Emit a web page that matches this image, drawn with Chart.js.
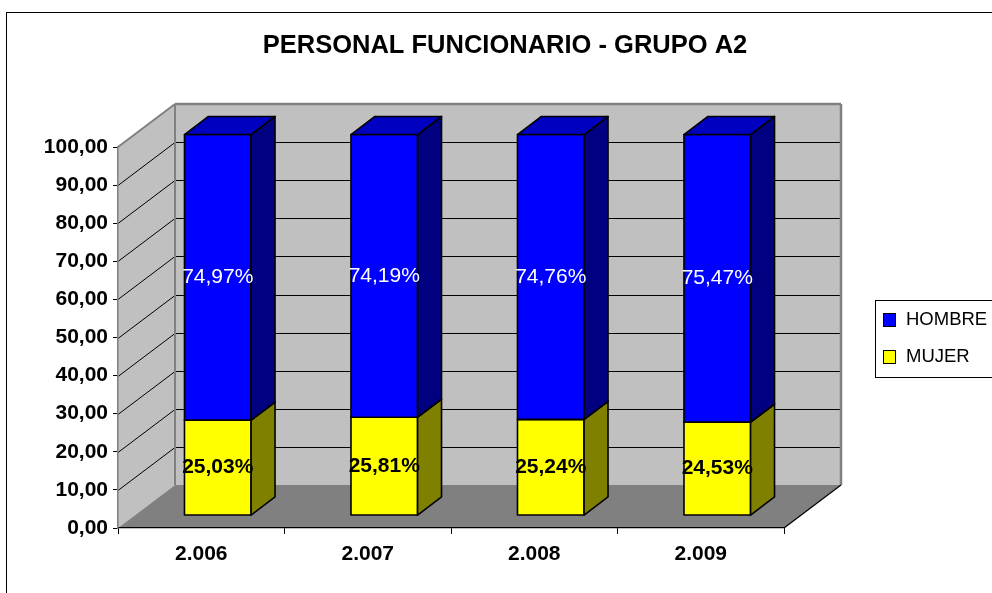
<!DOCTYPE html>
<html>
<head>
<meta charset="utf-8">
<title>Personal funcionario - Grupo A2</title>
<script src="https://cdn.jsdelivr.net/npm/chart.js@4.4.0/dist/chart.umd.min.js"></script>
<style>
  html, body { margin: 0; padding: 0; background: #fff; }
  #wrap { width: 992px; height: 593px; position: relative; }
</style>
</head>
<body>
<div id="wrap"><canvas id="grupoA2"></canvas></div>
<script>
// porcentajes por año (mujer abajo, hombre encima)
const years = ['2.006', '2.007', '2.008', '2.009'];
const mujer = [25.03, 25.81, 25.24, 24.53];
const hombre = [74.97, 74.19, 74.76, 75.47];
const chartTitle = 'PERSONAL FUNCIONARIO - GRUPO A2';

const FONT = "'Liberation Sans', Arial, sans-serif";

// oblique depth of the 3d box (front plane -> back wall)
const depthX = 57, depthY = -43;
// bars sit between these depth fractions
const barFront = 0.29, barBack = 0.71;

// face colours for each series: [front, side, top]
const faces = [
  ['#FFFF00', '#808000', '#C0C000'],
  ['#0000FF', '#000080', '#0000C0']
];

function fmt(v) {
  return v.toFixed(2).replace('.', ',');
}

function poly(ctx, pts, fill, stroke, lw) {
  ctx.beginPath();
  ctx.moveTo(pts[0][0], pts[0][1]);
  for (let i = 1; i < pts.length; i++) ctx.lineTo(pts[i][0], pts[i][1]);
  ctx.closePath();
  if (fill) { ctx.fillStyle = fill; ctx.fill(); }
  if (stroke) { ctx.strokeStyle = stroke; ctx.lineWidth = lw || 1; ctx.stroke(); }
}

function line(ctx, x1, y1, x2, y2, color, lw) {
  ctx.beginPath();
  ctx.moveTo(x1, y1);
  ctx.lineTo(x2, y2);
  ctx.strokeStyle = color;
  ctx.lineWidth = lw || 1;
  ctx.stroke();
}

// walls, floor, grid, frame and title
const walls3d = {
  id: 'walls3d',
  beforeDraw(chart) {
    const ctx = chart.ctx;
    const { left, right, top, bottom } = chart.chartArea;
    const ys = chart.scales.y;
    ctx.save();
    ctx.fillStyle = '#fff';
    ctx.fillRect(0, 0, chart.width, chart.height);

    // outer frame
    ctx.strokeStyle = '#000';
    ctx.lineWidth = 1;
    ctx.strokeRect(6.5, 12.5, 1000, 600);

    // title
    ctx.fillStyle = '#000';
    ctx.font = 'bold 25.5px ' + FONT;
    ctx.textAlign = 'center';
    ctx.textBaseline = 'alphabetic';
    ctx.fillText(chartTitle, 505, 53);

    // back wall
    poly(ctx, [
      [left + depthX, top + depthY], [right + depthX, top + depthY],
      [right + depthX, bottom + depthY], [left + depthX, bottom + depthY]
    ], '#C0C0C0');
    // side wall
    poly(ctx, [
      [left, bottom], [left, top], [left + depthX, top + depthY], [left + depthX, bottom + depthY]
    ], '#C0C0C0');

    // grid lines on back and side walls
    ys.ticks.forEach(t => {
      if (t.value <= ys.min || t.value >= ys.max) return;
      const yy = Math.round(ys.getPixelForValue(t.value)) + 0.5;
      line(ctx, left + depthX, yy + depthY, right + depthX, yy + depthY, '#000', 1);
      line(ctx, left, yy, left + depthX, yy + depthY, '#000', 1);
    });

    // wall borders
    ctx.lineJoin = 'miter';
    line(ctx, left + depthX, bottom + depthY, left + depthX, top + depthY, '#808080', 2);
    line(ctx, left + depthX, top + depthY, right + depthX, top + depthY, '#808080', 2.5);
    line(ctx, right + depthX, top + depthY, right + depthX, bottom + depthY, '#808080', 2.5);
    line(ctx, left, top, left + depthX, top + depthY, '#808080', 2);

    // floor
    poly(ctx, [
      [left, bottom], [right, bottom], [right + depthX, bottom + depthY], [left + depthX, bottom + depthY]
    ], '#808080');
    line(ctx, right, bottom, right + depthX, bottom + depthY, '#000', 1.2);
    ctx.restore();
  }
};

// 3d stacked columns, value labels and legend
const bars3d = {
  id: 'bars3d',
  beforeDatasetDraw() {
    return false;
  },
  afterDatasetsDraw(chart) {
    const ctx = chart.ctx;
    const fx = depthX * barFront, fy = depthY * barFront;
    const bx = depthX * barBack, by = depthY * barBack;
    const labels = [];
    ctx.save();
    ctx.lineJoin = 'round';
    for (let j = 0; j < chart.data.labels.length; j++) {
      chart.data.datasets.forEach((ds, i) => {
        const el = chart.getDatasetMeta(i).data[j];
        const p = el.getProps(['x', 'y', 'base', 'width'], true);
        const x0 = p.x - p.width / 2, x1 = p.x + p.width / 2;
        const yt = p.y, yb = p.base;
        const c = faces[i];
        // front
        poly(ctx, [[x0 + fx, yt + fy], [x1 + fx, yt + fy], [x1 + fx, yb + fy], [x0 + fx, yb + fy]], c[0], '#000', 1.6);
        // right side
        poly(ctx, [[x1 + fx, yt + fy], [x1 + bx, yt + by], [x1 + bx, yb + by], [x1 + fx, yb + fy]], c[1], '#000', 1.6);
        // top
        poly(ctx, [[x0 + fx, yt + fy], [x1 + fx, yt + fy], [x1 + bx, yt + by], [x0 + bx, yt + by]], c[2], '#000', 1.6);
        labels.push({
          text: fmt(ds.data[j]) + '%',
          x: p.x + fx,
          y: (yt + yb) / 2 + fy,
          series: i
        });
      });
    }

    ctx.textAlign = 'center';
    ctx.textBaseline = 'middle';
    labels.forEach(l => {
      if (l.series === 1) {
        ctx.font = '21px ' + FONT;
        ctx.fillStyle = '#fff';
      } else {
        ctx.font = 'bold 21px ' + FONT;
        ctx.fillStyle = '#000';
      }
      ctx.fillText(l.text, l.x, l.y);
    });
    ctx.restore();
  },
  afterDraw(chart) {
    const ctx = chart.ctx;
    ctx.save();
    // legend box
    ctx.strokeStyle = '#000';
    ctx.lineWidth = 1;
    ctx.strokeRect(875.5, 300.5, 130, 77);
    const order = [1, 0];
    ctx.font = '18.5px ' + FONT;
    ctx.textAlign = 'left';
    ctx.textBaseline = 'middle';
    order.forEach((i, k) => {
      const ds = chart.data.datasets[i];
      const cy = 320 + k * 37;
      ctx.fillStyle = ds.backgroundColor;
      ctx.fillRect(883.5, cy - 6.5, 12, 13);
      ctx.strokeStyle = '#000';
      ctx.lineWidth = 1;
      ctx.strokeRect(883.5, cy - 6.5, 12, 13);
      ctx.fillStyle = '#000';
      ctx.fillText(ds.label, 906, cy);
    });
    ctx.restore();
  }
};

new Chart(document.getElementById('grupoA2'), {
  type: 'bar',
  data: {
    labels: years,
    datasets: [
      { label: 'MUJER', data: mujer, backgroundColor: '#FFFF00' },
      { label: 'HOMBRE', data: hombre, backgroundColor: '#0000FF' }
    ]
  },
  options: {
    responsive: true,
    maintainAspectRatio: false,
    animation: false,
    events: [],
    layout: { padding: { left: 0, right: 208, top: 147, bottom: 0 } },
    datasets: {
      bar: { categoryPercentage: 1, barPercentage: 0.4 }
    },
    plugins: {
      legend: { display: false },
      title: { display: false },
      tooltip: { enabled: false }
    },
    scales: {
      x: {
        stacked: true,
        afterFit(scale) { scale.height = 65; },
        grid: { display: true, drawOnChartArea: false, offset: true, tickLength: 6, color: '#000' },
        border: { display: true, color: '#000', width: 1.2 },
        ticks: { color: '#000', padding: 8, font: { family: FONT, size: 21, weight: 'bold' } }
      },
      y: {
        stacked: true,
        min: 0,
        max: 100,
        afterFit(scale) { scale.width = 118; },
        grid: { display: true, drawOnChartArea: false, tickLength: 5, color: '#000' },
        border: { display: true, color: '#808080', width: 1.5 },
        ticks: {
          stepSize: 10,
          color: '#000',
          padding: 5,
          font: { family: FONT, size: 21, weight: 'bold' },
          callback: v => fmt(v)
        }
      }
    }
  },
  plugins: [walls3d, bars3d]
});
</script>
</body>
</html>
